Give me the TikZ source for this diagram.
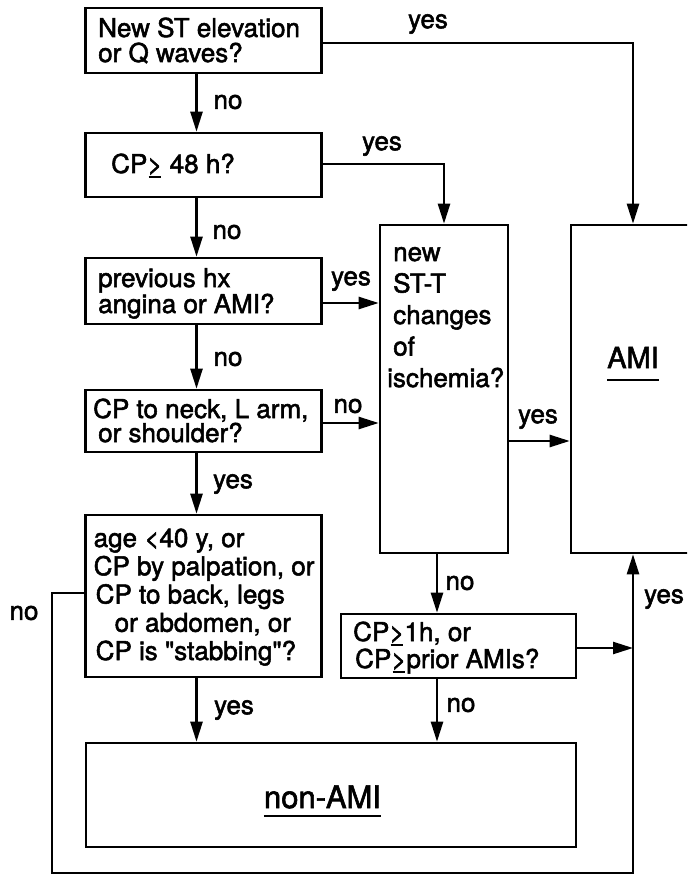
\documentclass[tikz,border=0pt]{standalone}
\usepackage{fontspec}
\setmainfont{TeX Gyre Heros}[Ligatures=TeXOff,FakeBold=2]
\usetikzlibrary{arrows.meta}
\newcommand\ugeq{\makebox[0pt][l]{\hspace{0.05em}\rule[-5pt]{0.48em}{2pt}}>}
\tikzset{
  box/.style={draw,line width=2.6pt,inner sep=0pt},
  txt/.style={font=\fontsize{26}{#1}\selectfont,inner sep=0pt,align=left},
  lbl/.style={font=\fontsize{26}{26}\selectfont,inner sep=0pt},
  res/.style={font=\fontsize{#1}{#1}\selectfont,inner sep=0pt},
  arr/.style={line width=2.4pt,-{Triangle[length=20pt,width=12pt]}},
  ln/.style={line width=2.4pt}}
\begin{document}
\begin{tikzpicture}[x=1pt,y=-1pt]
\useasboundingbox (0,0) rectangle (687,874);
\clip (0,0) rectangle (687,874);
% boxes
\node[box,minimum width=236pt,minimum height=65pt] (b1) at (203.5,40.5) {};
\node[box,minimum width=236pt,minimum height=64pt] (b2) at (203.5,165) {};
\node[box,minimum width=236pt,minimum height=66pt] (b3) at (203.5,291) {};
\node[box,minimum width=236pt,minimum height=62pt] (b4) at (203.5,421) {};
\node[box,minimum width=236pt,minimum height=162pt] (b5) at (203.5,596) {};
\node[box,minimum width=128pt,minimum height=328pt] (isch) at (444,389) {};
\node[box,minimum width=124pt,minimum height=328pt] (ami) at (633,389) {};
\node[box,minimum width=235pt,minimum height=64pt] (b6) at (458.5,646) {};
\node[box,minimum width=490pt,minimum height=104pt] (non) at (331,795) {};
% texts (anchored at the baseline of the last line)
\node[txt=25,anchor=base west] (t1) at (98,62) {New ST elevation\\or Q waves?};
\node[txt=25,anchor=base west] (t2) at (111,173) {CP\ugeq\ 48 h?};
\node[txt=26,anchor=base west] (t3) at (98,313) {previous hx\\angina or AMI?};
\node[txt=24,anchor=base west] (t4) at (93,442) {CP to neck, L arm,\\\hspace*{5pt}or shoulder?};
\node[txt=28.25,anchor=base west] (t5) at (93.5,660) {age <40 y, or\\CP by palpation, or\\\hspace*{2pt}CP to back, legs\\\hspace*{21pt}or abdomen, or\\\hspace*{2pt}CP is "stabbing"?};
\node[txt=27,anchor=base west] (t6) at (353,668) {CP\ugeq1h, or\\\hspace*{2pt}CP\ugeq prior AMIs?};
\node[txt=31.5,anchor=base west] (t7) at (393,387) {new\\ST-T\\changes\\of\\\hspace*{-6pt}ischemia?};
\node[res=29,anchor=base] (tami) at (633,368) {AMI};
\draw[ln] ([yshift=-12pt]tami.base west) -- ([yshift=-12pt]tami.base east);
\node[res=31,anchor=base] (tnon) at (322.5,808) {non-AMI};
\draw[ln] ([yshift=-8pt]tnon.base west) -- ([yshift=-8pt]tnon.base east);
% labels
\node[lbl] (l1) at (428,24) {yes};
\node[lbl] (l2) at (228,102) {no};
\node[lbl] (l3) at (382,146) {yes};
\node[lbl] (l4) at (227,232) {no};
\node[lbl] (l5) at (351,281) {yes};
\node[lbl] (l6) at (228,359) {no};
\node[lbl] (l7) at (348,406) {no};
\node[lbl] (l8) at (233,484) {yes};
\node[lbl] (l9) at (538,419) {yes};
\node[lbl] (l10) at (460,583) {no};
\node[lbl] (l11) at (664,599) {yes};
\node[lbl] (l12) at (24,613) {no};
\node[lbl] (l13) at (234,710) {yes};
\node[lbl] (l14) at (461,705) {no};
% connectors
\coordinate (lx) at (196.5,0);
\coordinate (mx) at (437,0);
\coordinate (lp) at (52,873);
\draw[arr] (lx |- b1.south) -- (lx |- b2.north);
\draw[arr] (lx |- b2.south) -- (lx |- b3.north);
\draw[arr] (lx |- b3.south) -- (lx |- b4.north);
\draw[arr] (lx |- b4.south) -- (lx |- b5.north);
\draw[arr] (lx |- b5.south) -- (lx |- non.north);
\draw[arr] ([yshift=-2.5pt]b1.east) -| (ami.north);
\draw[arr] ([yshift=1pt]b2.east) -| (isch.north);
\draw[arr] ([yshift=-12pt]b3.east) -- ([yshift=-12pt]b3.east -| isch.west);
\draw[arr] ([yshift=-2pt]b4.east) -- ([yshift=-2pt]b4.east -| isch.west);
\draw[arr] ([yshift=-52pt]isch.east) -- ([yshift=-52pt]isch.east -| ami.west);
\draw[arr] (mx |- isch.south) -- (mx |- b6.north);
\draw[arr] (mx |- b6.south) -- (mx |- non.north);
\draw[arr] ([yshift=-2pt]b6.east) -- ([yshift=-2pt]b6.east -| ami.south);
\draw[arr] ([yshift=3pt]b5.west) -| (lp) -| (ami.south);
\end{tikzpicture}
\end{document}
